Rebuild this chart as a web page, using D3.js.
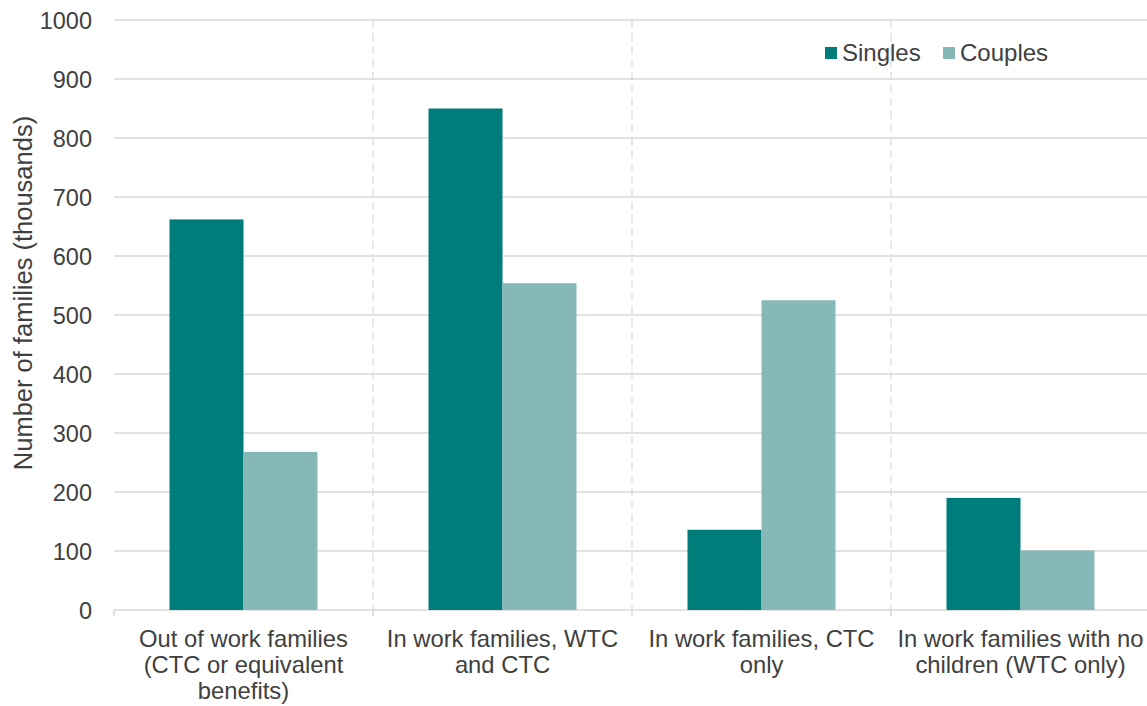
<!DOCTYPE html>
<html>
<head>
<meta charset="utf-8">
<script src="https://cdn.jsdelivr.net/npm/d3@7"></script>
<style>
  html, body { margin: 0; padding: 0; background: #fff; }
  svg { display: block; font-family: "Liberation Sans", Arial, sans-serif; }
</style>
</head>
<body>
<svg id="chart" width="1147" height="706"></svg>
<script>
const categories = [
  ["Out of work families", "(CTC or equivalent", "benefits)"],
  ["In work families, WTC", "and CTC"],
  ["In work families, CTC", "only"],
  ["In work families with no", "children (WTC only)"]
];
const seriesNames = ["Singles", "Couples"];
const singles = [662, 850, 136, 190];
const couples = [268, 554, 525, 101];
const yTicks = [0, 100, 200, 300, 400, 500, 600, 700, 800, 900, 1000];
const colors = ["#007d7a", "#86b8b7"];

const svg = d3.select("#chart");
const plotLeft = 114, plotRight = 1150, plotTop = 20, plotBottom = 610;
const textColor = "#404040";
const gridColor = "#d9d9d9";

const catIdx = d3.range(categories.length);
const x0 = d3.scaleBand().domain(catIdx).range([plotLeft, plotRight]).paddingInner(0).paddingOuter(0);
const x1 = d3.scaleBand().domain(seriesNames).range([55.5, x0.bandwidth() - 55.5]).padding(0);
const y = d3.scaleLinear().domain([0, 1000]).range([plotBottom, plotTop]);

// Gridlines
svg.append("g").selectAll("line").data(yTicks).join("line")
  .attr("x1", plotLeft).attr("x2", plotRight)
  .attr("y1", d => y(d)).attr("y2", d => y(d))
  .attr("stroke", gridColor).attr("stroke-width", 1.5);

// Dashed category separators
svg.append("g").selectAll("line").data(catIdx.slice(1)).join("line")
  .attr("x1", d => x0(d)).attr("x2", d => x0(d))
  .attr("y1", plotTop).attr("y2", plotBottom + 6)
  .attr("stroke", gridColor).attr("stroke-width", 1.2)
  .attr("stroke-dasharray", "8,5");

// Bottom tick marks at category boundaries
svg.append("g").selectAll("line").data(catIdx).join("line")
  .attr("x1", d => x0(d)).attr("x2", d => x0(d))
  .attr("y1", plotBottom).attr("y2", plotBottom + 6)
  .attr("stroke", gridColor).attr("stroke-width", 1.5);

// Bars
const seriesData = [singles, couples];
seriesNames.forEach((name, si) => {
  svg.append("g").selectAll("rect").data(seriesData[si]).join("rect")
    .attr("x", (d, i) => x0(i) + x1(name))
    .attr("width", x1.bandwidth())
    .attr("y", d => y(d))
    .attr("height", d => y(0) - y(d))
    .attr("fill", colors[si]);
});

// Y axis labels
const yAxis = d3.axisLeft(y).tickValues(yTicks).tickFormat(d3.format("d")).tickSize(0).tickPadding(0);
const gy = svg.append("g").attr("transform", `translate(92,0)`).call(yAxis);
gy.select(".domain").remove();
gy.selectAll("text").attr("fill", textColor).attr("font-size", "23.5px")
  .attr("font-family", "'Liberation Sans', Arial, sans-serif")
  .attr("dy", "0.35em");

// Category labels
const catG = svg.append("g");
categories.forEach((lines, i) => {
  const t = catG.append("text")
    .attr("x", x0(i) + x0.bandwidth() / 2)
    .attr("y", 647)
    .attr("text-anchor", "middle")
    .attr("fill", textColor)
    .attr("font-size", "23.8px");
  lines.forEach((ln, j) => {
    t.append("tspan").attr("x", x0(i) + x0.bandwidth() / 2).attr("y", 647 + j * 26).text(ln);
  });
});

// Y title
svg.append("text")
  .attr("transform", `translate(32,293) rotate(-90)`)
  .attr("text-anchor", "middle")
  .attr("fill", textColor)
  .attr("font-size", "25.5px")
  .text("Number of families (thousands)");

// Legend
const legendItems = [
  { name: "Singles", color: colors[0], x: 825 },
  { name: "Couples", color: colors[1], x: 943 }
];
const lg = svg.append("g");
legendItems.forEach(it => {
  lg.append("rect").attr("x", it.x).attr("y", 47).attr("width", 12).attr("height", 12).attr("fill", it.color);
  lg.append("text").attr("x", it.x + 17).attr("y", 61).attr("fill", textColor)
    .attr("font-size", "24px").text(it.name);
});
</script>
</body>
</html>
